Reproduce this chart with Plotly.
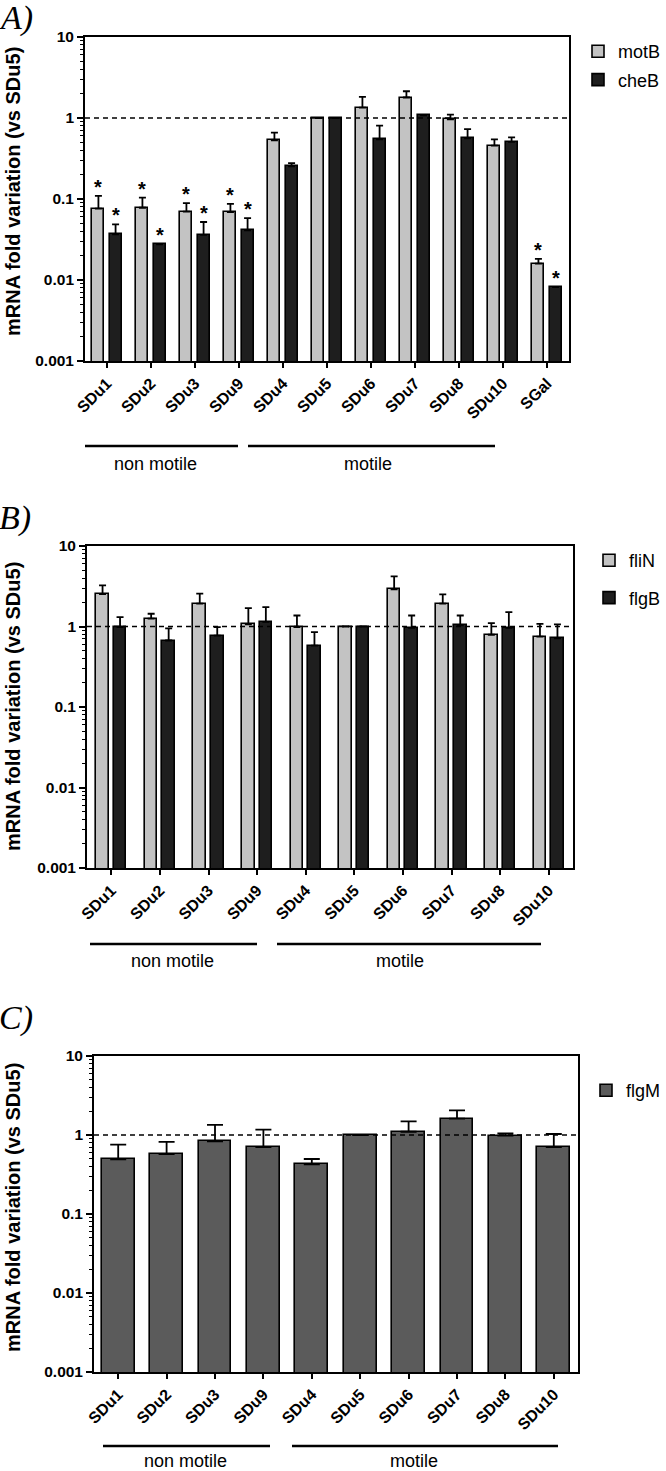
import numpy as np
import plotly.graph_objects as go

W, H = 666, 1471

# ---------------- data ----------------
cats_A = ["SDu1", "SDu2", "SDu3", "SDu9", "SDu4", "SDu5", "SDu6", "SDu7", "SDu8", "SDu10", "SGal"]
motB = [0.076, 0.078, 0.070, 0.069, 0.53, 1.0, 1.34, 1.79, 0.96, 0.456, 0.0159]
motB_err = [0.109, 0.104, 0.089, 0.087, 0.66, 1.0, 1.82, 2.14, 1.10, 0.546, 0.0182]
cheB = [0.0367, 0.0276, 0.036, 0.041, 0.253, 1.0, 0.546, 1.08, 0.56, 0.506, 0.0082]
cheB_err = [0.0487, 0.028, 0.052, 0.058, 0.278, 1.0, 0.805, 1.09, 0.73, 0.578, 0.0082]
motB_sig = [1, 1, 1, 1, 0, 0, 0, 0, 0, 0, 1]
cheB_sig = [1, 1, 1, 1, 0, 0, 0, 0, 0, 0, 1]

cats_B = ["SDu1", "SDu2", "SDu3", "SDu9", "SDu4", "SDu5", "SDu6", "SDu7", "SDu8", "SDu10"]
fliN = [2.52, 1.25, 1.92, 1.06, 0.98, 1.0, 2.9, 1.92, 0.79, 0.75]
fliN_err = [3.25, 1.44, 2.56, 1.69, 1.37, 1.0, 4.2, 2.5, 1.10, 1.08]
flgB = [0.98, 0.67, 0.77, 1.14, 0.58, 1.0, 0.96, 1.03, 0.96, 0.71]
flgB_err = [1.31, 0.95, 0.98, 1.74, 0.85, 1.0, 1.37, 1.37, 1.51, 1.06]

cats_C = ["SDu1", "SDu2", "SDu3", "SDu9", "SDu4", "SDu5", "SDu6", "SDu7", "SDu8", "SDu10"]
flgM = [0.49, 0.575, 0.83, 0.705, 0.425, 1.0, 1.10, 1.61, 0.98, 0.705]
flgM_err = [0.755, 0.82, 1.34, 1.17, 0.497, 1.0, 1.49, 2.05, 1.05, 1.03]

ytick_vals = [0.001, 0.01, 0.1, 1, 10]
ytick_text = ["0.001", "0.01", "0.1", "1", "10"]
minor_vals = [k * 10.0 ** e for e in range(-3, 1) for k in range(2, 10)]

group_labels = ["non motile", "motile"]

# ---------------- style ----------------
LIGHT = "#c3c3c3"
DARK = "#1e1e1e"
MID = "#5b5b5b"
SANS = "Liberation Sans, Arial, sans-serif"
SERIF = "Liberation Serif, Times New Roman, serif"


def fx(p):
    return p / W


def fy(p):
    return 1 - p / H


fig = go.Figure()
annotations = []


def add_bars(vals, tops, xref, yref, color, name, legend, offset, width, cap, group):
    x = np.arange(len(vals))
    plus = [t - v for v, t in zip(vals, tops)]
    fig.add_trace(go.Bar(
        x=x, y=vals, name=name, legend=legend, legendgroup=group,
        xaxis=xref, yaxis=yref, offset=offset, width=width,
        marker=dict(color=color, line=dict(color="black", width=1.6)),
        error_y=dict(type="data", symmetric=False, array=plus,
                     arrayminus=[0] * len(vals), color="black",
                     thickness=1.8, width=cap),
    ))


def add_stars(vals, tops, sig, xref, yref, center):
    for i, (v, t, s) in enumerate(zip(vals, tops, sig)):
        if s:
            annotations.append(dict(
                text="*", x=i + center, y=float(np.log10(max(v, t))),
                xref=xref, yref=yref, showarrow=False,
                xanchor="center", yanchor="middle", yshift=9,
                font=dict(family=SANS, size=20, color="black", weight="bold"),
            ))


# Panel A
add_bars(motB, motB_err, "x", "y", LIGHT, "motB", "legend", -0.33, 0.27, 3.5, "a1")
add_bars(cheB, cheB_err, "x", "y", DARK, "cheB", "legend", 0.06, 0.27, 3.5, "a2")
add_stars(motB, motB_err, motB_sig, "x", "y", -0.195)
add_stars(cheB, cheB_err, cheB_sig, "x", "y", 0.195)

# Panel B
add_bars(fliN, fliN_err, "x2", "y2", LIGHT, "fliN", "legend2", -0.31, 0.26, 3.5, "b1")
add_bars(flgB, flgB_err, "x2", "y2", DARK, "flgB", "legend2", 0.05, 0.26, 3.5, "b2")

# Panel C
add_bars(flgM, flgM_err, "x3", "y3", MID, "flgM", "legend3", -0.34, 0.68, 8, "c1")

panels = [
    ("xaxis", "yaxis", cats_A, (85, 569), (37, 361)),
    ("xaxis2", "yaxis2", cats_B, (87, 573), (546, 868)),
    ("xaxis3", "yaxis3", cats_C, (94, 578), (1056, 1372)),
]

layout_axes = {}
shapes = []
for i, (xa, ya, cats, (x0, x1), (y0, y1)) in enumerate(panels):
    n = len(cats)
    yname = "y" if i == 0 else f"y{i + 1}"
    xname = "x" if i == 0 else f"x{i + 1}"
    layout_axes[xa] = dict(
        domain=[fx(x0), fx(x1)], range=[-0.5, n - 0.5], anchor=yname,
        tickvals=list(range(n)), ticktext=cats, tickangle=-45,
        ticks="outside", ticklen=5, tickwidth=1.6, tickcolor="black",
        showline=True, linewidth=1.8, linecolor="black", mirror=True,
        showgrid=False, zeroline=False, automargin=False,
        tickfont=dict(family=SANS, size=16, color="black", weight="bold"),
    )
    layout_axes[ya] = dict(
        domain=[fy(y1), fy(y0)], type="log", range=[-3, 1], anchor=xname,
        tickvals=ytick_vals, ticktext=ytick_text,
        ticks="outside", ticklen=6, tickwidth=1.6, tickcolor="black",
        minor=dict(tickvals=minor_vals, ticks="outside", ticklen=3,
                   tickwidth=1, tickcolor="black", showgrid=False),
        showline=True, linewidth=1.8, linecolor="black", mirror=True,
        showgrid=False, zeroline=False, automargin=False,
        tickfont=dict(family=SANS, size=15.5, color="black", weight="bold"),
    )
    shapes.append(dict(type="line", xref=f"{xname} domain", yref=yname,
                       x0=0, x1=1, y0=1, y1=1, layer="above",
                       line=dict(color="black", width=1.5, dash="5px,4px")))

# group bars & labels (pixel positions)
groups = [
    (446, (85, 238), (248, 495), 464, 155, 368),
    (944, (90, 257), (277, 541), 961, 172, 400),
    (1446, (103, 270), (292, 558), 1461, 185, 414),
]
for yl, (a0, a1), (b0, b1), ty, tx1, tx2 in groups:
    for (p0, p1) in [(a0, a1), (b0, b1)]:
        shapes.append(dict(type="line", xref="paper", yref="paper",
                           x0=fx(p0), x1=fx(p1), y0=fy(yl), y1=fy(yl),
                           line=dict(color="black", width=2.5)))
    for tx, lab in [(tx1, group_labels[0]), (tx2, group_labels[1])]:
        annotations.append(dict(text=lab, x=fx(tx), y=fy(ty), xref="paper", yref="paper",
                                showarrow=False, xanchor="center", yanchor="middle",
                                font=dict(family=SANS, size=18, color="black")))

# y titles
for yc in [192, 707, 1208]:
    annotations.append(dict(text="mRNA fold variation (vs SDu5)", x=fx(13), y=fy(yc),
                            xref="paper", yref="paper", showarrow=False, textangle=-90,
                            xanchor="center", yanchor="middle",
                            font=dict(family=SANS, size=20, color="black", weight="bold")))

# panel letters
for lab, yc in [("A)", 18), ("B)", 518), ("C)", 1018)]:
    annotations.append(dict(text=lab, x=fx(-3), y=fy(yc), xref="paper", yref="paper",
                            showarrow=False, xanchor="left", yanchor="middle",
                            font=dict(family=SERIF, size=34, color="black", style="italic")))

legend_common = dict(bgcolor="rgba(0,0,0,0)", borderwidth=0, xanchor="right", yanchor="top",
                     font=dict(family=SANS, size=18, color="black"), traceorder="grouped")

fig.update_layout(
    width=W, height=H, margin=dict(l=0, r=0, t=0, b=0),
    paper_bgcolor="white", plot_bgcolor="white",
    showlegend=True, bargap=0,
    legend=dict(x=1, y=fy(33), tracegroupgap=2, **legend_common),
    legend2=dict(x=1, y=fy(542), tracegroupgap=11, **legend_common),
    legend3=dict(x=1, y=fy(1072), tracegroupgap=2, **legend_common),
    shapes=shapes, annotations=annotations,
    **layout_axes,
)

fig.write_html("out.html",
               config={"displayModeBar": False},
               post_script="document.body.style.margin='0';document.body.style.overflow='hidden';")
